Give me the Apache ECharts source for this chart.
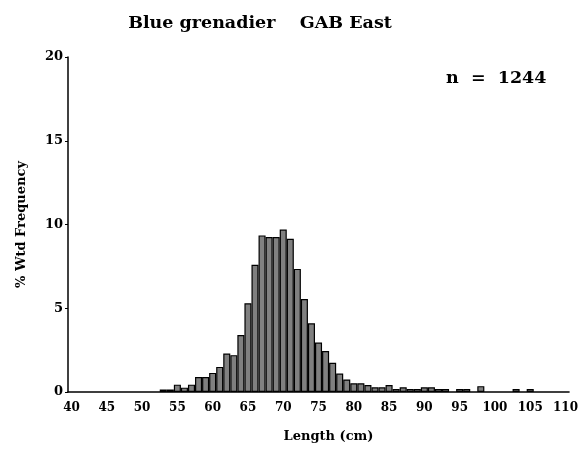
<!DOCTYPE html>
<html>
<head>
<meta charset="utf-8">
<script src="https://cdn.jsdelivr.net/npm/echarts@6/dist/echarts.min.js"></script>
<style>
html, body { margin: 0; padding: 0; background: #fff; }
#chart { width: 581px; height: 450px; }
</style>
</head>
<body>
<div id="chart"></div>
<script>
// length classes 40..110 cm
const lengths = [];
for (let l = 40; l <= 110; l++) lengths.push(l);

// % weighted frequency, 53..105 cm
const freqStart = 53;
const freqValues = [
  0.15, 0.15, 0.44, 0.26, 0.44, 0.9, 0.9, 1.14, 1.5, 2.3,
  2.2, 3.4, 5.3, 7.6, 9.35, 9.25, 9.25, 9.7, 9.15, 7.35,
  5.55, 4.1, 2.95, 2.45, 1.74, 1.1, 0.75, 0.52, 0.52, 0.42,
  0.28, 0.28, 0.42, 0.18, 0.28, 0.18, 0.18, 0.28, 0.28, 0.18,
  0.18, 0, 0.18, 0.18, 0, 0.35, 0, 0, 0, 0,
  0.18, 0, 0.18
];

const yTicks = [0, 5, 10, 15, 20];
const sampleSize = 1244;

const seriesData = lengths.map(function (l) {
  const k = l - freqStart;
  return (k >= 0 && k < freqValues.length && freqValues[k] > 0) ? freqValues[k] : null;
});

const font = 'DejaVu Serif';
const chart = echarts.init(document.getElementById('chart'));
chart.setOption({
  animation: false,
  title: {
    text: 'Blue grenadier    GAB East',
    left: 255,
    textAlign: 'center',
    top: 9,
    textStyle: { fontFamily: font, fontWeight: 'bold', fontSize: 17.5, color: '#000' }
  },
  graphic: [{
    type: 'text',
    left: 446,
    top: 69,
    style: { text: 'n  =  ' + sampleSize, font: 'bold 17.5px "DejaVu Serif"', fill: '#000' }
  }],
  grid: { left: 68, right: 8, top: 57, bottom: 58 },
  xAxis: {
    type: 'category',
    data: lengths,
    name: 'Length (cm)',
    nameLocation: 'middle',
    nameGap: 38,
    nameTextStyle: { fontFamily: font, fontWeight: 'bold', fontSize: 13, color: '#000', padding: [0, 0, 0, 20] },
    axisLine: { lineStyle: { color: '#000', width: 1.5 } },
    axisTick: { show: false },
    axisLabel: {
      interval: 4,
      margin: 10,
      fontFamily: font, fontWeight: 'bold', fontSize: 12, color: '#000'
    }
  },
  yAxis: {
    type: 'value',
    min: 0,
    max: yTicks[yTicks.length - 1],
    interval: 5,
    name: '% Wtd Frequency',
    nameLocation: 'middle',
    nameGap: 40,
    nameTextStyle: { fontFamily: font, fontWeight: 'bold', fontSize: 13, color: '#000' },
    splitLine: { show: false },
    axisLine: { show: true, lineStyle: { color: '#000', width: 1.5 } },
    axisTick: { show: true, length: 3, lineStyle: { color: '#000' } },
    axisLabel: { margin: 5, fontFamily: font, fontWeight: 'bold', fontSize: 13, color: '#000' }
  },
  series: [{
    type: 'bar',
    data: seriesData,
    barCategoryGap: '0%',
    itemStyle: { color: '#808080', borderColor: '#000', borderWidth: 1.2 }
  }]
});
</script>
</body>
</html>
